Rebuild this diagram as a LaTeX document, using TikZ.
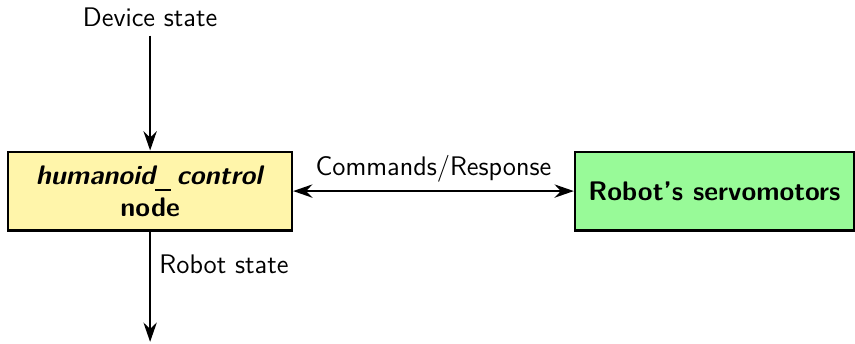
\documentclass[tikz,border=0pt]{standalone}
\usetikzlibrary{arrows.meta}
\definecolor{nodeyellow}{RGB}{255,245,170}
\definecolor{servogreen}{RGB}{152,250,152}
\newcommand{\lowbar}{\raisebox{-3pt}{\rule{6.5pt}{0.8pt}}\hspace{2.5pt}}
\tikzset{
  every node/.style={font=\sffamily\fontsize{11.2}{13.5}\selectfont},
  block/.style={draw, line width=0.9pt, minimum height=1.157cm, align=center, font=\sffamily\bfseries\fontsize{11.2}{13.5}\selectfont},
  link/.style={line width=1.1pt, -{Stealth[length=8pt,width=5.5pt]}}
}
\begin{document}
\begin{tikzpicture}
          \useasboundingbox (0,0) rectangle (12.53,5.04);
          \node [block, fill=nodeyellow, minimum width=4.16cm] (ctrl) at (2.20,2.24) {\textit{humanoid\lowbar control}\\node};
          \node [block, fill=servogreen, minimum width=4.09cm] (servo) at (10.47,2.24) {Robot's servomotors};
          \node (devstate) at (2.20,4.78) {Device state};
          \coordinate (out) at (2.20,0.03);
          \draw [link] (devstate) -- (ctrl);
          \draw [link] (ctrl) -- node [right, pos=0.3] {Robot state} (out);
          \draw [link, {Stealth[length=8pt,width=5.5pt]}-{Stealth[length=8pt,width=5.5pt]}] (ctrl) -- node [above] {Commands/Response} (servo);
      \end{tikzpicture}
\end{document}
